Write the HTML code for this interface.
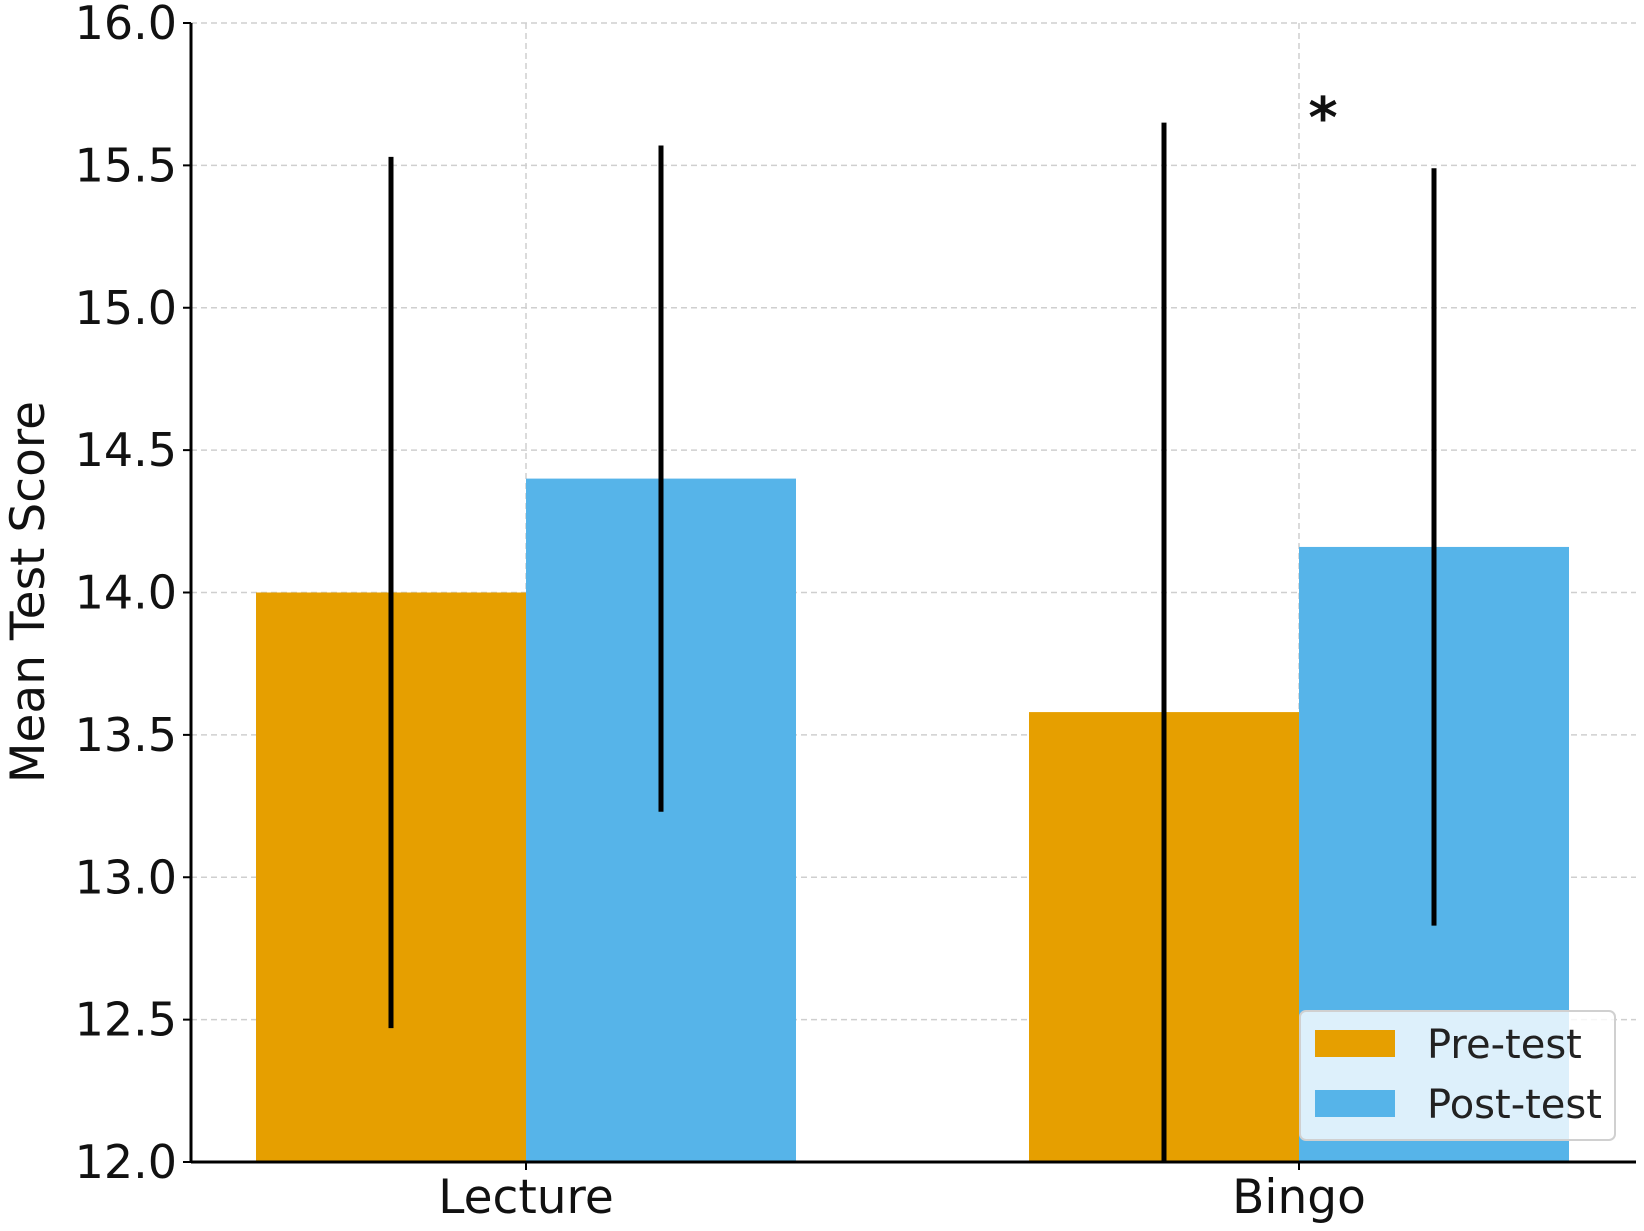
<!DOCTYPE html>
<html><head><meta charset="utf-8"><style>
body{margin:0;background:#fff;}
svg{display:block;font-family:"DejaVu Sans","Liberation Sans",sans-serif;}
</style></head><body>
<svg id="chart" width="1644" height="1231" viewBox="0 0 1644 1231"></svg>
<script>
const categories = ["Lecture", "Bingo"];
const seriesNames = ["Pre-test", "Post-test"];
const preValues = [14.0, 13.58];
const postValues = [14.4, 14.16];
const preErrors = [1.53, 2.07];
const postErrors = [1.17, 1.33];
const yTicks = [12.0, 12.5, 13.0, 13.5, 14.0, 14.5, 15.0, 15.5, 16.0];

const svg = document.getElementById('chart');
const NS = 'http://www.w3.org/2000/svg';
const X0 = 191, X1 = 1636, YT = 23, YB = 1162, YMIN = 12, YMAX = 16;
const catX = [526, 1299];
const BW = 270;
const colors = ['#E69F00', '#56B4E9'];
function y(v){ return YB - (v - YMIN) / (YMAX - YMIN) * (YB - YT); }
function mk(tag, attrs, parent){
  const e = document.createElementNS(NS, tag);
  for (const k in attrs) e.setAttribute(k, attrs[k]);
  (parent || svg).appendChild(e);
  return e;
}
yTicks.forEach(t => {
  const g = mk('line', {x1:X0, x2:X1, y1:y(t), y2:y(t), stroke:'#cfcfcf', 'stroke-width':1.5, 'stroke-dasharray':'6,4'});
  
  
});
catX.forEach(cx => {
  const g = mk('line', {x1:cx, x2:cx, y1:YT, y2:YB, stroke:'#cfcfcf', 'stroke-width':1.5, 'stroke-dasharray':'6,4'});
  
  
});
const series = [preValues, postValues];
const errs = [preErrors, postErrors];
series.forEach((vals, s) => {
  vals.forEach((v, i) => {
    const left = catX[i] + (s === 0 ? -BW : 0);
    const r = mk('rect', {x:left, y:y(v), width:BW, height:YB - y(v), fill:colors[s]});
    
    
  });
});
series.forEach((vals, s) => {
  vals.forEach((v, i) => {
    const cx = catX[i] + (s === 0 ? -BW/2 : BW/2);
    const lo = Math.max(YMIN, v - errs[s][i]), hi = Math.min(YMAX, v + errs[s][i]);
    const e = mk('line', {x1:cx, x2:cx, y1:y(hi), y2:y(lo), stroke:'#000', 'stroke-width':5});
    
    
  });
});
const ax = mk('line', {x1:X0, x2:X0, y1:YT, y2:YB, stroke:'#000', 'stroke-width':3});


const bx = mk('line', {x1:X0, x2:X1, y1:YB, y2:YB, stroke:'#000', 'stroke-width':3});


yTicks.forEach(t => {
  const tk = mk('line', {x1:X0-8, x2:X0, y1:y(t), y2:y(t), stroke:'#000', 'stroke-width':2});
  
  
  const tl = mk('text', {x:177, y:y(t)+16, 'text-anchor':'end', 'font-size':46, fill:'#111'});
  tl.textContent = t.toFixed(1);
  
  
});
categories.forEach((c, i) => {
  const tk = mk('line', {x1:catX[i], x2:catX[i], y1:YB, y2:YB+8, stroke:'#000', 'stroke-width':2});
  
  
  const tl = mk('text', {x:catX[i], y:1213, 'text-anchor':'middle', 'font-size':47, fill:'#111'});
  tl.textContent = c;
  
  
});
const yt = mk('text', {x:0, y:0, transform:'translate(44,592) rotate(-90)', 'text-anchor':'middle', 'font-size':47, fill:'#111'});
yt.textContent = 'Mean Test Score';


const star = mk('text', {x:1323, y:137, 'text-anchor':'middle', 'font-size':56, 'font-weight':'bold', fill:'#111'});
star.textContent = '*';


const lg = mk('g', {});


mk('rect', {x:1300, y:1011, width:315, height:129, rx:6, fill:'rgba(255,255,255,0.8)', stroke:'#d0d0d0', 'stroke-width':2}, lg);
seriesNames.forEach((n, s) => {
  const ent = mk('g', {}, lg);
  
  
  mk('rect', {x:1315, y:1030 + s*60, width:80, height:27, fill:colors[s]}, ent);
  const t = mk('text', {x:1427, y:1058 + s*60, 'font-size':40, fill:'#222'}, ent);
  t.textContent = n;
});
</script>
</body></html>
